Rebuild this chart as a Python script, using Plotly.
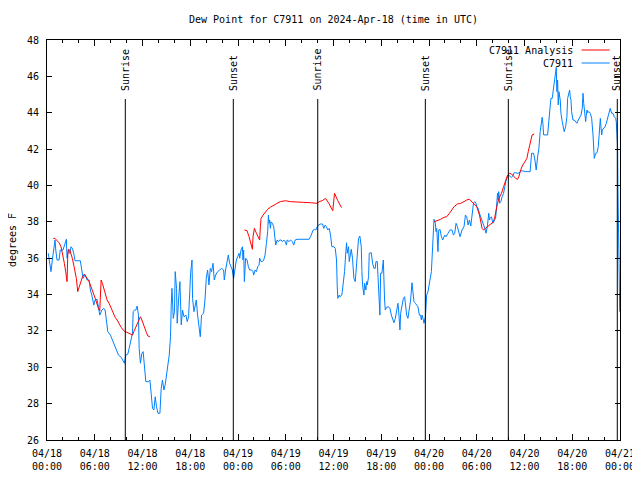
import pandas as pd
import plotly.graph_objects as go

START = "2024-04-18 00:00"
END = "2024-04-21 00:00"
TITLE = "Dew Point for C7911 on 2024-Apr-18 (time in UTC)"
Y_LABEL = "degrees F"
OBS_NAME = "C7911"
ANA_NAME = "C7911 Analysis"

# observed dew point (hours after 2024-04-18 00:00 UTC, deg F)
obs_hours = [
    0.16, 0.34, 0.50, 0.67, 0.92, 1.01, 1.10, 1.26, 1.51, 1.67,
    2.01, 2.27, 2.43, 2.52, 2.68, 2.86, 3.02, 3.18, 3.36, 3.52,
    4.19, 4.37, 4.53, 4.78, 5.04, 5.29, 5.45, 5.63, 5.88, 6.04,
    6.29, 6.46, 6.63, 6.89, 7.14, 7.30, 7.46, 7.64, 7.97, 8.31,
    8.56, 8.81, 8.98, 9.32, 9.57, 9.73, 9.91, 10.16, 10.32, 10.57,
    10.74, 10.83, 10.99, 11.17, 11.33, 11.49, 11.58, 11.74, 11.92, 12.08,
    12.25, 12.42, 12.75, 12.93, 13.09, 13.26, 13.43, 13.60, 13.76, 13.94,
    14.19, 14.35, 14.51, 14.69, 14.85, 15.02, 15.19, 15.36, 15.52, 15.61,
    15.70, 15.77, 15.86, 16.02, 16.11, 16.28, 16.36, 16.53, 16.70, 16.87,
    17.03, 17.21, 17.46, 17.62, 17.79, 17.96, 18.04, 18.22, 18.29, 18.47,
    18.59, 18.76, 18.92, 19.10, 19.26, 19.42, 19.68, 19.85, 20.01, 20.18,
    20.35, 20.52, 20.68, 20.86, 21.02, 21.19, 21.44, 21.69, 21.94, 22.19,
    22.28, 22.44, 22.62, 22.78, 22.95, 23.12, 23.29, 23.45, 23.63, 23.79,
    23.96, 24.13, 24.21, 24.38, 24.55, 24.63, 24.71, 24.80, 24.96, 25.14,
    25.30, 25.47, 25.72, 25.89, 25.97, 26.15, 26.31, 26.47, 26.65, 26.72,
    26.90, 27.06, 27.23, 27.40, 27.57, 27.73, 27.82, 27.91, 27.98, 28.07,
    28.16, 28.32, 28.49, 28.58, 28.74, 28.92, 29.08, 29.24, 29.42, 29.58,
    29.75, 29.92, 30.09, 30.17, 30.43, 30.59, 30.84, 31.00, 31.18, 31.43,
    31.85, 32.26, 32.69, 32.94, 33.11, 33.27, 33.45, 33.61, 33.77, 33.95,
    34.11, 34.37, 34.62, 34.78, 34.96, 35.12, 35.28, 35.46, 35.63, 35.79,
    36.04, 36.22, 36.38, 36.47, 36.54, 36.72, 36.80, 37.05, 37.22, 37.39,
    37.55, 37.64, 37.73, 37.89, 37.98, 38.14, 38.23, 38.39, 38.56, 38.73,
    38.90, 38.99, 39.15, 39.31, 39.49, 39.57, 39.65, 39.82, 39.91, 40.07,
    40.16, 40.24, 40.41, 40.49, 40.75, 40.91, 41.08, 41.25, 41.33, 41.50,
    41.58, 41.75, 41.83, 41.92, 42.08, 42.26, 42.33, 42.42, 42.51, 42.67,
    42.92, 43.09, 43.27, 43.43, 43.59, 43.77, 43.93, 44.10, 44.18, 44.27,
    44.35, 44.44, 44.60, 44.78, 44.94, 45.03, 45.19, 45.35, 45.53, 45.69,
    45.86, 45.95, 46.11, 46.29, 46.45, 46.61, 46.79, 46.95, 47.04, 47.12,
    47.29, 47.37, 47.55, 47.62, 47.71, 47.87, 48.05, 48.12, 48.30, 48.38,
    48.46, 48.55, 48.63, 48.80, 48.88, 48.97, 49.13, 49.22, 49.38, 49.56,
    49.72, 49.98, 50.14, 50.39, 50.64, 50.89, 51.07, 51.23, 51.40, 51.57,
    51.74, 51.90, 52.15, 52.40, 52.58, 52.74, 52.91, 53.08, 53.25, 53.41,
    53.59, 53.75, 53.91, 54.00, 54.17, 54.34, 54.51, 54.67, 54.85, 55.01,
    55.17, 55.35, 55.51, 55.60, 55.68, 55.85, 56.02, 56.18, 56.36, 56.43,
    56.52, 56.61, 56.68, 56.77, 56.86, 57.03, 57.19, 57.37, 57.53, 57.69,
    57.87, 58.03, 58.20, 58.37, 58.53, 58.70, 58.88, 59.13, 59.38, 59.54,
    59.79, 60.13, 60.55, 60.71, 60.89, 61.14, 61.31, 61.47, 61.65, 61.81,
    61.97, 62.15, 62.22, 62.31, 62.40, 62.90, 63.07, 63.15, 63.32, 63.48,
    63.66, 63.73, 63.91, 63.99, 64.07, 64.16, 64.24, 64.32, 64.49, 64.58,
    64.74, 64.92, 64.99, 65.17, 65.33, 65.42, 65.58, 65.67, 65.75, 65.84,
    65.92, 66.09, 66.25, 66.43, 66.59, 66.76, 66.93, 67.10, 67.26, 67.35,
    67.44, 67.52, 67.69, 67.76, 67.85, 67.94, 68.10, 68.27, 68.44, 68.61,
    68.70, 68.77, 68.95, 69.11, 69.27, 69.45, 69.53, 69.61, 69.70, 69.78,
    69.95, 70.12, 70.28, 70.45, 70.62, 70.70, 70.77, 70.95, 71.12, 71.28,
    71.45, 71.53, 71.62, 71.70, 71.75, 71.80, 71.88, 71.96,
]
obs_values = [
    36.27, 35.53, 35.26, 35.9, 36.63, 37.0, 36.45, 35.9, 35.9, 36.45,
    36.45, 36.91, 37.04, 36.0, 36.45, 36.27, 36.63, 36.54, 36.27, 35.86,
    35.86, 35.35, 34.89, 35.07, 34.8, 34.8, 34.25, 33.97, 33.42, 33.7,
    33.74, 33.33, 32.87, 33.15, 33.24, 33.15, 32.6, 31.96, 31.77, 31.41,
    31.13, 30.95, 30.67, 30.55, 30.36, 30.22, 30.67, 30.73, 31.04, 31.5,
    31.87, 33.06, 33.15, 33.15, 33.37, 32.87, 31.04, 30.22, 30.77, 30.86,
    30.03, 29.21, 29.21, 29.3, 28.57, 27.74, 27.65, 28.38, 27.83, 27.47,
    27.47, 28.84, 29.3, 28.75, 29.03, 29.48, 30.13, 30.67, 31.68, 33.42,
    34.34, 33.7, 32.69, 33.06, 35.26, 34.34, 32.42, 33.7, 34.71, 32.33,
    33.15, 32.78, 32.87, 32.51, 32.78, 34.34, 35.17, 35.9, 33.79, 33.06,
    33.33, 33.7, 32.87, 32.23, 31.68, 32.87, 32.97, 33.7, 34.89, 35.35,
    34.53, 35.44, 35.26, 35.72, 34.8, 35.07, 35.26, 35.35, 35.44, 35.35,
    34.8, 35.35, 35.72, 36.17, 35.72, 35.53, 35.35, 34.89, 35.35, 35.9,
    36.08, 36.27, 36.0, 36.45, 36.63, 35.9, 36.45, 34.71, 36.0, 35.9,
    35.53, 35.35, 35.35, 35.26, 35.07, 35.35, 35.26, 35.53, 35.62, 36.0,
    35.81, 35.81, 35.9, 36.17, 36.82, 37.46, 38.37, 37.92, 38.1, 37.64,
    38.0, 37.92, 37.73, 37.18, 36.72, 37.0, 36.91, 37.0, 37.0, 36.91,
    37.0, 36.91, 36.72, 37.0, 36.91, 37.0, 36.91, 36.72, 37.0, 37.04,
    37.04, 37.04, 37.04, 37.04, 37.18, 37.37, 37.55, 37.59, 37.55, 37.73,
    37.82, 37.88, 37.88, 37.64, 37.82, 37.73, 37.55, 37.64, 37.27, 36.63,
    36.63, 36.54, 35.9, 34.43, 33.79, 33.97, 33.88, 33.97, 34.53, 35.26,
    36.36, 36.85, 36.27, 36.63, 35.81, 36.17, 36.49, 36.0, 34.89, 34.71,
    35.72, 36.36, 37.09, 37.22, 36.63, 35.26, 34.53, 33.97, 34.62, 34.25,
    34.71, 34.53, 34.98, 36.27, 36.3, 35.72, 35.44, 35.44, 35.81, 35.81,
    35.17, 34.16, 32.87, 35.17, 35.17, 35.9, 34.43, 33.7, 33.15, 33.3,
    33.33, 33.24, 32.87, 32.69, 32.45, 32.69, 33.15, 33.52, 33.15, 32.6,
    32.05, 32.97, 33.33, 33.79, 33.88, 33.33, 32.87, 32.69, 33.15, 33.7,
    34.65, 34.07, 33.61, 33.52, 33.42, 33.33, 32.87, 32.87, 32.6, 32.87,
    32.6, 32.42, 32.78, 33.52, 33.97, 34.16, 34.53, 34.8, 35.26, 36.0,
    36.82, 37.64, 38.14, 37.92, 37.46, 37.64, 36.36, 37.55, 37.59, 37.18,
    37.0, 37.27, 37.18, 37.37, 37.55, 37.55, 37.27, 37.37, 37.92, 37.73,
    37.37, 37.18, 37.55, 37.73, 38.37, 38.28, 37.82, 38.1, 37.77, 38.28,
    39.02, 39.11, 39.02, 38.83, 38.74, 38.47, 38.28, 38.1, 37.82, 37.64,
    37.37, 37.82, 38.47, 38.1, 38.19, 38.28, 37.92, 38.1, 38.19, 38.47,
    39.02, 39.57, 39.2, 39.66, 39.02, 39.11, 39.38, 39.57, 39.93, 40.3,
    40.48, 40.57, 40.48, 40.45, 40.52, 40.7, 40.7, 40.67, 40.7, 40.8,
    40.8, 40.76, 40.76, 40.76, 41.77, 41.77, 41.4, 40.85, 41.58, 42.04,
    42.96, 43.51, 43.75, 43.42, 42.78, 42.78, 43.51, 44.24, 44.79, 44.79,
    45.34, 45.8, 46.17, 46.5, 45.16, 45.8, 44.43, 45.16, 44.7, 43.97,
    43.51, 43.14, 42.96, 43.23, 43.78, 44.79, 45.07, 45.25, 44.88, 44.7,
    44.06, 43.6, 43.6, 43.51, 43.42, 43.6, 43.78, 43.87, 44.24, 45.07,
    44.52, 44.24, 43.51, 43.87, 44.15, 44.0, 44.06, 43.97, 43.69, 42.78,
    42.22, 41.49, 41.77, 41.8, 42.13, 43.23, 43.69, 43.23, 42.78, 43.05,
    43.14, 43.23, 43.42, 43.69, 43.87, 44.15, 44.24, 43.97, 43.97, 43.78,
    43.69, 43.51, 42.96, 42.13, 39.57, 36.5, 35.7, 33.06,
]

# analysis dew point, three runs with gaps between them
ana1_hours = [
    0.79, 1.01, 1.26, 1.51, 1.76, 2.01, 2.18, 2.35, 2.52, 2.61,
    2.68, 2.86, 3.02, 3.18, 3.36, 3.52, 3.69, 3.86, 4.03, 4.19,
    4.44, 4.70, 4.87, 5.12, 5.29, 5.45, 5.63, 5.79, 5.95, 6.13,
    6.29, 6.46, 6.63, 6.71, 6.80, 6.96, 7.14, 7.30, 7.55, 7.80,
    8.06, 8.31, 8.56, 8.81, 9.06, 9.32, 9.57, 9.82, 10.16, 10.49,
    10.74, 10.91, 11.08, 11.33, 11.58, 11.74, 11.92, 12.08, 12.25, 12.50,
    12.68, 12.93,
]
ana1_values = [
    37.09, 37.09, 36.96, 36.85, 36.63, 36.17, 35.72, 35.26, 34.71, 36.17,
    36.49, 36.45, 36.27, 36.0, 35.62, 35.26, 34.89, 34.16, 34.4, 34.62,
    34.95, 35.13, 35.02, 34.84, 34.71, 34.53, 34.34, 34.16, 33.92, 33.7,
    33.42, 33.24, 33.11, 33.79, 34.8, 34.62, 34.34, 34.07, 33.7, 33.52,
    33.24, 32.97, 32.75, 32.6, 32.38, 32.2, 32.05, 31.96, 31.9, 31.83,
    31.77, 31.96, 32.14, 32.42, 32.69, 32.78, 32.6, 32.38, 32.14, 31.9,
    31.72, 31.68,
]
ana2_hours = [
    24.80, 25.14, 25.39, 25.64, 25.81, 25.89, 26.06, 26.31, 26.56, 26.72,
    26.81, 26.90, 27.15, 27.40, 27.73, 28.07, 28.49, 28.92, 29.33, 29.96,
    30.59, 31.43, 32.26, 33.11, 33.95, 34.20, 34.58, 35.00, 35.41, 35.91,
    36.13, 36.54, 37.01,
]
ana2_values = [
    37.55, 37.51, 37.18, 36.82, 36.49, 37.18, 37.64, 37.37, 37.09, 37.0,
    37.73, 38.19, 38.37, 38.5, 38.69, 38.8, 38.92, 39.02, 39.11, 39.16,
    39.11, 39.11, 39.07, 39.05, 39.02, 39.11, 39.16, 39.29, 39.02, 38.61,
    39.57, 39.16, 38.78,
]
ana3_hours = [
    48.63, 49.06, 49.47, 49.89, 50.23, 50.57, 50.82, 51.15, 51.57, 51.99,
    52.40, 52.74, 53.08, 53.25, 53.50, 53.75, 54.00, 54.34, 54.51, 54.67,
    54.85, 55.10, 55.35, 55.60, 55.85, 56.10, 56.27, 56.43, 56.61, 56.86,
    57.11, 57.37, 57.62, 57.87, 58.12, 58.37, 58.62, 58.88, 59.13, 59.29,
    59.46, 59.71, 59.96, 60.30, 60.47, 60.71, 60.96, 61.22,
]
ana3_values = [
    38.0, 38.06, 38.14, 38.25, 38.28, 38.47, 38.65, 38.83, 38.98, 39.02,
    39.11, 39.2, 39.24, 39.16, 39.05, 38.98, 38.83, 38.37, 38.0, 37.64,
    37.55, 37.64, 37.77, 37.82, 37.92, 38.0, 38.28, 38.65, 39.02, 39.35,
    39.57, 39.93, 40.3, 40.57, 40.67, 40.63, 40.52, 40.39, 40.34, 40.48,
    40.76, 41.07, 41.24, 41.49, 41.86, 42.32, 42.78, 42.83,
]

# sun events (hours after start)
sun_labels = ["Sunrise", "Sunset", "Sunrise", "Sunset", "Sunrise", "Sunset"]
sun_hours = [9.84, 23.41, 34.02, 47.54, 57.97, 71.66]

Y_MIN, Y_MAX, Y_STEP = 26, 48, 2

base = pd.Timestamp(START)


def to_time(hours):
    return [base + pd.to_timedelta(h, unit="h") for h in hours]


# join the analysis runs with gaps
ana_x, ana_y = [], []
for hrs, vals in [(ana1_hours, ana1_values), (ana2_hours, ana2_values), (ana3_hours, ana3_values)]:
    if ana_x:
        ana_x.append(None)
        ana_y.append(None)
    ana_x.extend(to_time(hrs))
    ana_y.extend(vals)

RED = "#ff0000"
BLUE = "#0080ff"
FONT = "DejaVu Sans Mono"

fig = go.Figure()
fig.add_trace(go.Scatter(x=to_time(obs_hours), y=obs_values, mode="lines",
                         line=dict(color=BLUE, width=1), name=OBS_NAME))
fig.add_trace(go.Scatter(x=ana_x, y=ana_y, mode="lines", connectgaps=False,
                         line=dict(color=RED, width=1), name=ANA_NAME))

# sunrise / sunset markers
line_top = 0.8525
for lab, h in zip(sun_labels, sun_hours):
    t = base + pd.to_timedelta(h, unit="h")
    fig.add_shape(type="line", xref="x", yref="paper", x0=t, x1=t, y0=0, y1=line_top,
                  line=dict(color="black", width=1))
    fig.add_annotation(x=t, xref="x", y=0.868, yref="paper", text=lab, textangle=-90,
                       showarrow=False, xanchor="center", yanchor="bottom",
                       font=dict(family=FONT, size=10, color="black"))

# gnuplot-like legend: text then line sample
leg_rows = [(ANA_NAME, RED, 0.975), (OBS_NAME, BLUE, 0.9425)]
for name, col, yp in leg_rows:
    fig.add_annotation(x=0.921, xref="paper", y=yp, yref="paper", text=name, showarrow=False,
                       xanchor="right", yanchor="middle",
                       font=dict(family=FONT, size=10, color="black"))
    fig.add_shape(type="line", xref="paper", yref="paper", x0=0.933, x1=0.982, y0=yp, y1=yp,
                  line=dict(color=col, width=1))

fig.add_annotation(x=0.5, xref="paper", y=1.05, yref="paper", text=TITLE, showarrow=False,
                   xanchor="center", yanchor="middle",
                   font=dict(family=FONT, size=10, color="black"))
fig.add_annotation(x=-0.061, xref="paper", y=0.5, yref="paper", text=Y_LABEL, showarrow=False,
                   textangle=-90, xanchor="center", yanchor="middle",
                   font=dict(family=FONT, size=10, color="black"))

fig.update_xaxes(type="date", range=[START, END], showgrid=False, zeroline=False,
                 showline=True, linecolor="black", linewidth=1, mirror="allticks",
                 ticks="inside", ticklen=6, tickcolor="black", tickwidth=1,
                 tick0=START, dtick=6 * 3600 * 1000, tickformat="%m/%d<br>%H:%M",
                 ticklabelstandoff=4, automargin=False, ticklabeloverflow="allow",
                 tickfont=dict(family=FONT, size=10, color="black"),
                 minor=dict(dtick=2 * 3600 * 1000, ticks="inside", ticklen=3,
                            tickcolor="black", tickwidth=1, showgrid=False))
fig.update_yaxes(range=[Y_MIN, Y_MAX], showgrid=False, zeroline=False,
                 showline=True, linecolor="black", linewidth=1, mirror="allticks",
                 ticks="inside", ticklen=5, tickcolor="black", tickwidth=1,
                 tick0=Y_MIN, dtick=Y_STEP, ticklabelstandoff=5, automargin=False,
                 tickfont=dict(family=FONT, size=10, color="black"))

# the page body adds an 8 px margin, so the figure is shrunk and shifted to fit the window
fig.update_layout(width=632, height=464, margin=dict(l=39, r=20, t=32, b=32),
                  paper_bgcolor="white", plot_bgcolor="white", showlegend=False,
                  font=dict(family=FONT, size=10, color="black"),
                  hovermode=False)

fig.write_html("out.html")
